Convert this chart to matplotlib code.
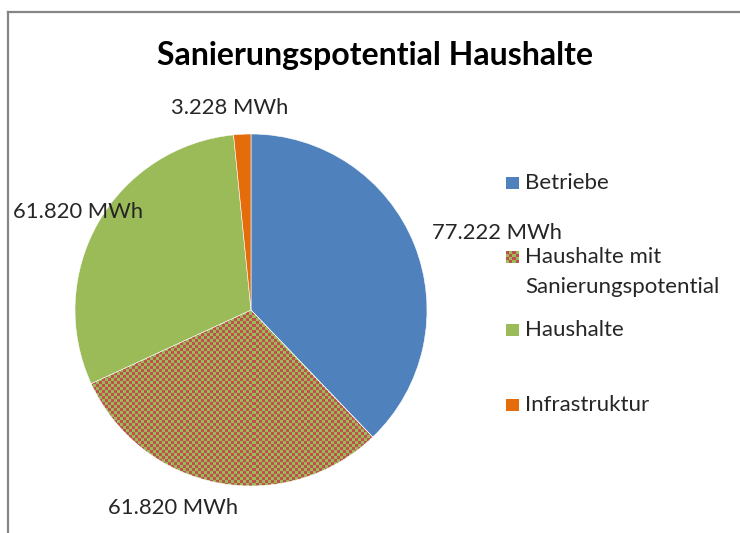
import numpy as np
import matplotlib
matplotlib.use("Agg")
import matplotlib.pyplot as plt
from matplotlib.colors import ListedColormap
from matplotlib.lines import Line2D

plt.rcParams['font.family'] = ['Lato', 'DejaVu Sans']

# data
categories = ['Betriebe', 'Haushalte mit\nSanierungspotential', 'Haushalte', 'Infrastruktur']
values = [77.222, 61.820, 61.820, 3.228]
value_labels = ['77.222 MWh', '61.820 MWh', '61.820 MWh', '3.228 MWh']
colors = ['#4F81BD', '#9BBB59', '#9BBB59', '#E46C0A']
checker_red = '#C0504D'
checker_green = '#9BBB59'

W, H = 740, 533
fig = plt.figure(figsize=(W / 100, H / 100), dpi=100)

# pie in pixel layout: centre (251, 310), radius 176
cx, cy, R = 251, 310, 176
ax = fig.add_axes([(cx - R) / W, (H - cy - R) / H, 2 * R / W, 2 * R / H])
wedges, _ = ax.pie(values, colors=colors, startangle=90, counterclock=False, radius=1,
                   wedgeprops=dict(edgecolor='white', linewidth=0.4))
ax.set_xlim(-1, 1)
ax.set_ylim(-1, 1)
ax.set_aspect('equal')
ax.axis('off')

# checkered fill for "Haushalte mit Sanierungspotential"
n = int(2 * R / 3)
checker = np.add.outer(np.arange(n), np.arange(n)) % 2
img = ax.imshow(checker, extent=(-1, 1, -1, 1), cmap=ListedColormap([checker_red, checker_green]),
                interpolation='nearest', zorder=0.5)
img.set_clip_path(wedges[1])
wedges[1].set_facecolor('none')
wedges[1].set_zorder(1)

# data labels (angle in deg, radius, alignment)
label_pos = [(17.3, 1.0, 'left'), (-111.5, 1.21, 'center'), (150.5, 1.13, 'center'), (95.9, 1.154, 'center')]
for txt, (ang, r, ha) in zip(value_labels, label_pos):
    a = np.deg2rad(ang)
    x, y = r * np.cos(a), r * np.sin(a)
    if ha == 'left':
        x, y = (432 - cx) / R, (cy - 233) / R
    ax.text(x, y, txt, ha=ha, va='center', fontsize=15.8, color='#262626', clip_on=False)

fig.text(375 / W, 1 - 55 / H, 'Sanierungspotential Haushalte', ha='center', va='center',
         fontsize=23, fontweight='bold', color='black')

# legend (key y, first text line y)
leg_y = [183, 257, 330, 405]
for i, (lab, yy) in enumerate(zip(categories, leg_y)):
    kax = fig.add_axes([506 / W, 1 - (yy + 6) / H, 13 / W, 12 / H])
    kax.axis('off')
    if i == 1:
        kax.imshow(np.add.outer(np.arange(4), np.arange(4)) % 2, aspect='auto',
                   cmap=ListedColormap([checker_red, checker_green]), interpolation='nearest')
    else:
        kax.add_patch(plt.Rectangle((0, 0), 1, 1, color=colors[i], transform=kax.transAxes))
    for j, line in enumerate(lab.split('\n')):
        fig.text(525 / W, 1 - (yy + 30 * j) / H, line, ha='left', va='center', fontsize=16,
                 color='#262626')

# chart area frame (top and left edges visible)
fig.add_artist(Line2D([7.5 / W, 1], [1 - 11.5 / H, 1 - 11.5 / H], color='#868686', lw=1.6))
fig.add_artist(Line2D([7.5 / W, 7.5 / W], [0, 1 - 11.5 / H], color='#868686', lw=1.6))

fig.savefig('out.png', dpi=100)
